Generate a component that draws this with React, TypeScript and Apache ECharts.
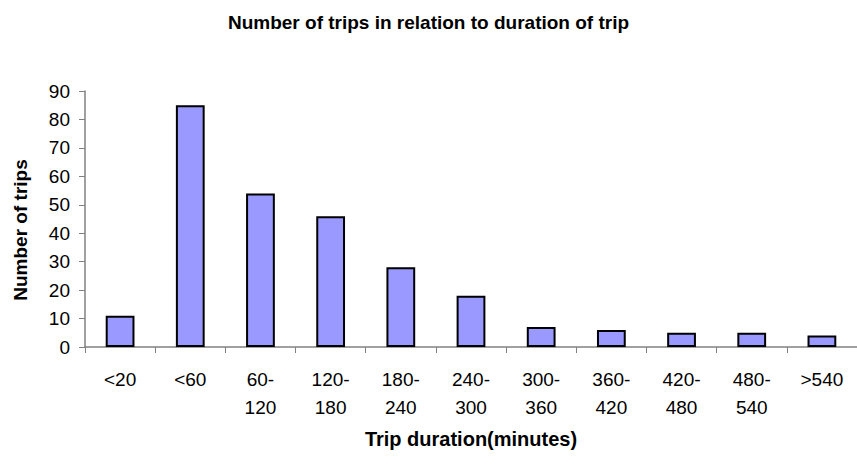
import React, { useEffect, useRef } from "react";
import * as echarts from "echarts";

const categories = ["<20", "<60", "60-\n120", "120-\n180", "180-\n240", "240-\n300", "300-\n360", "360-\n420", "420-\n480", "480-\n540", ">540"];
const trips = [11, 85, 54, 46, 28, 18, 7, 6, 5, 5, 4];
const titleText = "Number of trips in relation to duration of trip";
const xName = "Trip duration(minutes)";
const yName = "Number of trips";

export default function App() {
  const ref = useRef<HTMLDivElement>(null);
  useEffect(() => {
    const chart = echarts.init(ref.current!, undefined, { renderer: "svg" });
    const font = "Liberation Sans, Arial, sans-serif";
    chart.setOption({
      animation: false,
      backgroundColor: "#ffffff",
      title: {
        text: titleText,
        left: "center",
        top: 8,
        textStyle: { fontFamily: font, fontSize: 19, fontWeight: "bold", color: "#000" },
      },
      grid: { left: 85, right: -7, top: 91, bottom: 119, containLabel: false },
      xAxis: {
        type: "category",
        data: categories,
        name: xName,
        nameLocation: "middle",
        nameGap: 82,
        nameTextStyle: { fontFamily: font, fontSize: 20, fontWeight: "bold", color: "#000" },
        axisLine: { lineStyle: { color: "#808080", width: 1.5 } },
        axisTick: { show: true, alignWithLabel: false, length: 6, lineStyle: { color: "#808080" } },
        axisLabel: { fontFamily: font, fontSize: 19, color: "#000", margin: 18, lineHeight: 28, interval: 0 },
      },
      yAxis: {
        type: "value",
        min: 0,
        max: 90,
        interval: 10,
        name: yName,
        nameLocation: "middle",
        nameGap: 55,
        nameTextStyle: { fontFamily: font, fontSize: 19, fontWeight: "bold", color: "#000", padding: [0, 22, 0, 0] },
        axisLine: { show: true, lineStyle: { color: "#808080", width: 1.5 } },
        axisTick: { show: true, length: 6, lineStyle: { color: "#808080" } },
        axisLabel: { fontFamily: font, fontSize: 19, color: "#000", margin: 15 },
        splitLine: { show: false },
      },
      series: [
        {
          type: "bar",
          data: trips,
          barWidth: "41%",
          itemStyle: { color: "#9999FF", borderColor: "#000", borderWidth: 2 },
        },
      ],
    });
    return () => chart.dispose();
  }, []);
  return <div ref={ref} style={{ width: 857, height: 466, position: "absolute", left: 0, top: 0 }} />;
}
